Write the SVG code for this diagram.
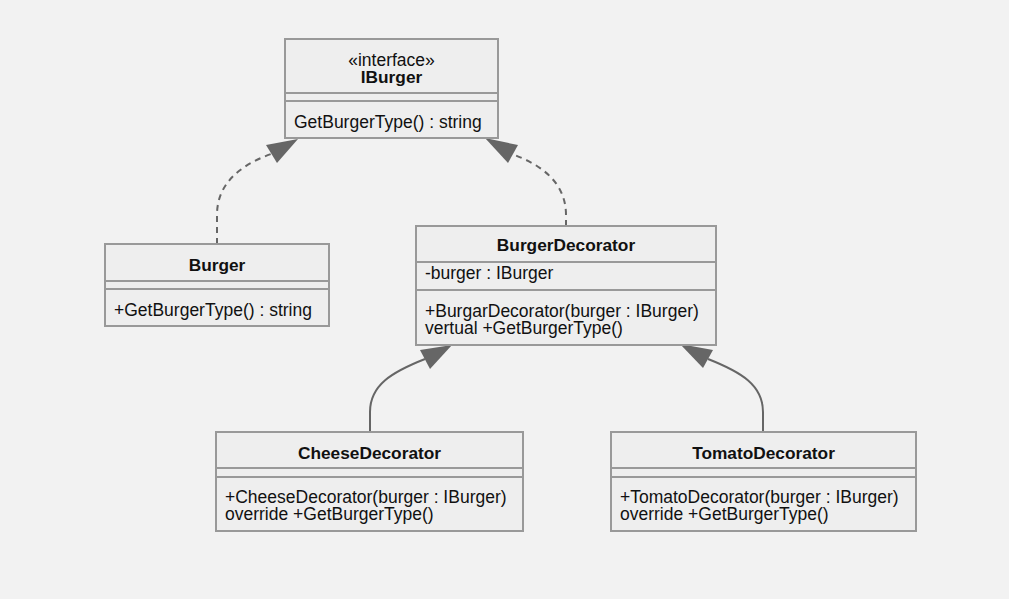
<svg xmlns="http://www.w3.org/2000/svg" width="1009" height="599" viewBox="0 0 1009 599">
<style>
.box{fill:#eeeeee;stroke:#999999;stroke-width:2}
.sep{stroke:#999999;stroke-width:2}
text{font-family:"Liberation Sans",Arial,sans-serif;font-size:17.5px;fill:#111111}
.t{font-weight:bold;text-anchor:middle;font-size:17.3px}
.c{text-anchor:middle}
.edge{fill:none;stroke:#666666;stroke-width:2}
.dash{stroke-dasharray:6,5}
.head{fill:#666666;stroke:none}
</style>
<rect width="1009" height="599" fill="#f2f2f2"/>
<g id="connectors">
<path class="edge dash" d="M217,244 L217,215 C217,185 238,166 271,154"/>
<polygon class="head" points="298,139 266,145 277,163"/>
<path class="edge dash" d="M566,226 L566,215 C566,185 545,166 512,154"/>
<polygon class="head" points="485,138 518,145 508,163"/>
<path class="edge" d="M370,432 L370,412 C370,385 392,372 425,359"/>
<polygon class="head" points="452,345 420,350 430,369"/>
<path class="edge" d="M763,432 L763,412 C763,385 741,372 708,359"/>
<polygon class="head" points="680,344 713,350 703,368"/>
</g>
<g id="IBurger">
<rect class="box" x="285" y="39" width="213" height="99"/>
<line class="sep" x1="285" y1="93" x2="498" y2="93"/>
<line class="sep" x1="285" y1="101" x2="498" y2="101"/>
<text class="c" x="391.5" y="65.5">«interface»</text>
<text class="t" x="391.5" y="83">IBurger</text>
<text x="294" y="128">GetBurgerType() : string</text>
</g>
<g id="Burger">
<rect class="box" x="105" y="244" width="224" height="82"/>
<line class="sep" x1="105" y1="281" x2="329" y2="281"/>
<line class="sep" x1="105" y1="289" x2="329" y2="289"/>
<text class="t" x="217" y="271">Burger</text>
<text x="114" y="316">+GetBurgerType() : string</text>
</g>
<g id="BurgerDecorator">
<rect class="box" x="416" y="226" width="300" height="119"/>
<line class="sep" x1="416" y1="262" x2="716" y2="262"/>
<line class="sep" x1="416" y1="290" x2="716" y2="290"/>
<text class="t" x="566" y="251">BurgerDecorator</text>
<text x="425" y="279">-burger : IBurger</text>
<text x="425" y="317">+BurgarDecorator(burger : IBurger)</text>
<text x="425" y="334">vertual +GetBurgerType()</text>
</g>
<g id="CheeseDecorator">
<rect class="box" x="216" y="432" width="307" height="99"/>
<line class="sep" x1="216" y1="468" x2="523" y2="468"/>
<line class="sep" x1="216" y1="477" x2="523" y2="477"/>
<text class="t" x="369.5" y="459">CheeseDecorator</text>
<text x="225" y="503">+CheeseDecorator(burger : IBurger)</text>
<text x="225" y="520">override +GetBurgerType()</text>
</g>
<g id="TomatoDecorator">
<rect class="box" x="611" y="432" width="305" height="99"/>
<line class="sep" x1="611" y1="468" x2="916" y2="468"/>
<line class="sep" x1="611" y1="477" x2="916" y2="477"/>
<text class="t" x="763.5" y="459">TomatoDecorator</text>
<text x="620" y="503">+TomatoDecorator(burger : IBurger)</text>
<text x="620" y="520">override +GetBurgerType()</text>
</g>
</svg>
